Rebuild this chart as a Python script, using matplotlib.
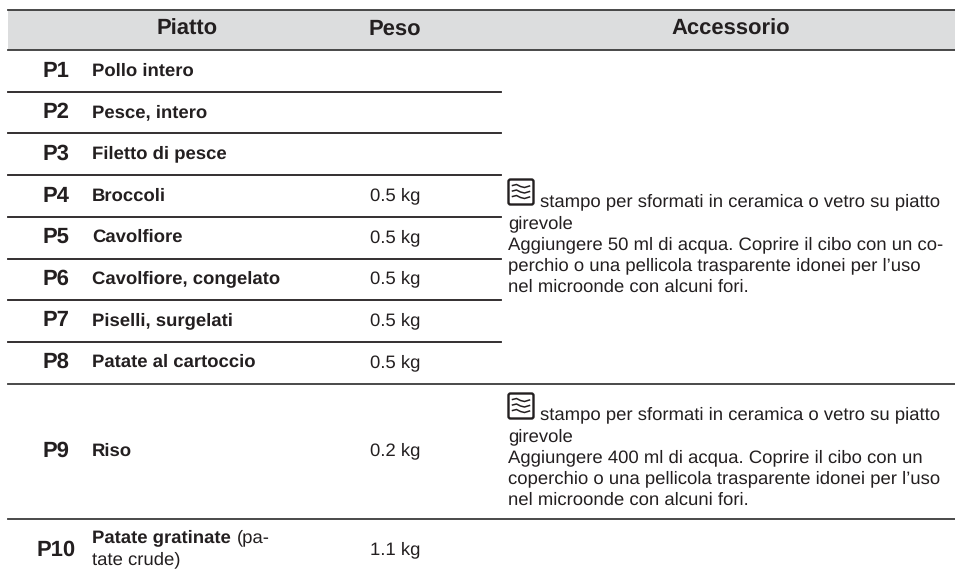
import matplotlib
matplotlib.use("Agg")
import matplotlib.pyplot as plt
from matplotlib.patches import Rectangle, FancyBboxPatch
from matplotlib.lines import Line2D

W, H = 955, 573
INK = "#231f20"

# ---- table content
headers = ["Piatto", "Peso", "Accessorio"]
codes = ["P1", "P2", "P3", "P4", "P5", "P6", "P7", "P8", "P9"]
dishes = ["Pollo intero", "Pesce, intero", "Filetto di pesce", "Broccoli", "Cavolfiore",
          "Cavolfiore, congelato", "Piselli, surgelati", "Patate al cartoccio", "Riso"]
weights = ["", "", "", "0.5 kg", "0.5 kg", "0.5 kg", "0.5 kg", "0.5 kg", "0.2 kg"]
note_1 = ["stampo per sformati in ceramica o vetro su piatto", "girevole",
          "Aggiungere 50 ml di acqua. Coprire il cibo con un co-",
          "perchio o una pellicola trasparente idonei per l\u2019uso",
          "nel microonde con alcuni fori."]
note_2 = ["stampo per sformati in ceramica o vetro su piatto", "girevole",
          "Aggiungere 400 ml di acqua. Coprire il cibo con un",
          "coperchio o una pellicola trasparente idonei per l\u2019uso",
          "nel microonde con alcuni fori."]

# ---- layout, in pixels of the page (y = text baseline)
row_y = [76, 117.5, 158.5, 200.5, 242, 283.5, 325, 367, 455.5]
short_rules = [91.7, 133.3, 175, 217, 258.5, 300, 342]
long_rules = [10, 50, 383.5, 519]
BODY, HEAD = 13.3, 15.8

plt.rcParams["font.family"] = ["Liberation Sans", "DejaVu Sans"]
plt.rcParams["text.hinting"] = "no_hinting"
fig = plt.figure(figsize=(W / 100, H / 100), dpi=100)
ax = fig.add_axes([0, 0, 1, 1])
ax.set_xlim(0, W)
ax.set_ylim(H, 0)
ax.axis("off")


def put(x, y, t, size=BODY, weight="normal", ha="left"):
    ax.text(x, y, t, fontsize=size, fontweight=weight, color=INK, ha=ha, va="baseline")


def draw_icon(x, y):
    ax.add_patch(FancyBboxPatch((x, y), 25, 25, boxstyle="round,pad=0,rounding_size=2",
                                fc="white", ec=INK, lw=1.7))
    for dy in (7, 12.5, 18):
        xs = [x + 4, x + 8, x + 12, x + 16, x + 21]
        ys = [y + dy - 1, y + dy - 2, y + dy, y + dy + 1, y + dy - 0.5]
        ax.add_line(Line2D(xs, ys, color=INK, lw=1.1))


def draw_note(lines, x, y0, step=21.3):
    for i, t in enumerate(lines):
        put(x + (32 if i == 0 else 0), y0 + i * step, t)


ax.add_patch(Rectangle((8, 10), W - 8, 40, fc="#dcddde", ec="none"))
for y in long_rules:
    ax.add_line(Line2D([8, W], [y, y], color="#3a3a3a", lw=1.3))
for y in short_rules:
    ax.add_line(Line2D([8, 501], [y, y], color=INK, lw=1.3))

for t, x in zip(headers, [186.7, 395, 731]):
    put(x, 35, t, size=HEAD, weight="bold", ha="center")

for c, d, w, y in zip(codes, dishes, weights, row_y):
    put(56, y + 1, c, size=HEAD, weight="bold", ha="center")
    put(92, y, d, weight="bold")
    if w:
        put(370, y, w)

put(56, 555.5, "P10", size=HEAD, weight="bold", ha="center")
put(92, 542.5, "Patate gratinate", weight="bold")
put(237, 542.5, "(pa-")
put(92, 564.5, "tate crude)")
put(370, 554.5, "1.1 kg")

draw_icon(508.5, 179.5)
draw_note(note_1, 508, 206.5)
draw_icon(508.5, 393.5)
draw_note(note_2, 508, 419.5)

fig.savefig("out.png", dpi=100)
